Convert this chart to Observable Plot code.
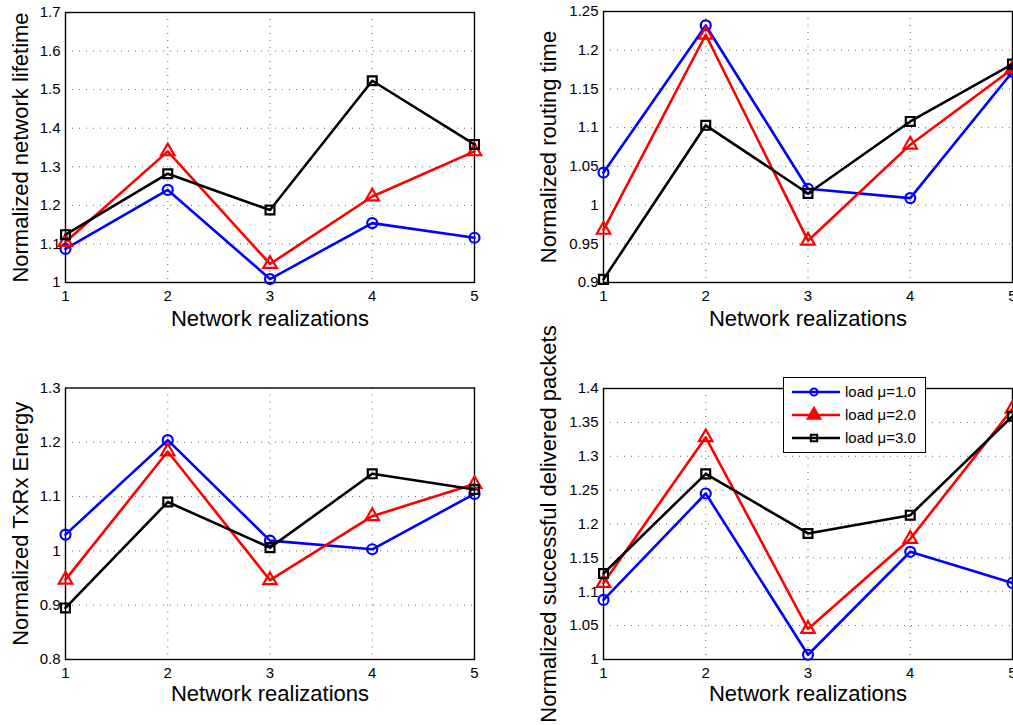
<!DOCTYPE html>
<html><head><meta charset="utf-8">
<script src="https://cdn.jsdelivr.net/npm/d3@7"></script>
<script src="https://cdn.jsdelivr.net/npm/@observablehq/plot@0.6"></script>
<style>
html,body{margin:0;padding:0;background:#fff;overflow:hidden;}
#root{position:relative;width:1013px;height:725px;overflow:hidden;font-family:"Liberation Sans",Arial,Helvetica,sans-serif;}
.panel{position:absolute;}
.panel svg{overflow:visible;max-width:none !important;}
#legend{position:absolute;left:783px;top:377px;width:141px;height:74px;border:1px solid #000;background:#fff;}
</style></head><body><div id="root"></div>
<script>
const realizations = [1, 2, 3, 4, 5];
const seriesLabels = ["load μ=1.0", "load μ=2.0", "load μ=3.0"];
const seriesColors = ["#0000ff", "#ff0000", "#000000"];
const seriesSymbols = ["circle", "triangle", "square"];

const lifetimeMu1 = [1.087, 1.240, 1.009, 1.154, 1.116];
const lifetimeMu2 = [1.105, 1.340, 1.048, 1.223, 1.340];
const lifetimeMu3 = [1.124, 1.282, 1.188, 1.523, 1.358];

const routingMu1 = [1.042, 1.232, 1.021, 1.009, 1.172];
const routingMu2 = [0.968, 1.220, 0.954, 1.078, 1.176];
const routingMu3 = [0.904, 1.103, 1.015, 1.108, 1.182];

const energyMu1 = [1.030, 1.204, 1.019, 1.003, 1.105];
const energyMu2 = [0.947, 1.183, 0.946, 1.064, 1.123];
const energyMu3 = [0.895, 1.090, 1.006, 1.142, 1.113];

const deliveredMu1 = [1.088, 1.245, 1.007, 1.159, 1.113];
const deliveredMu2 = [1.113, 1.328, 1.045, 1.178, 1.370];
const deliveredMu3 = [1.127, 1.274, 1.186, 1.213, 1.359];

const lifetimeTicks = [1, 1.1, 1.2, 1.3, 1.4, 1.5, 1.6, 1.7];
const routingTicks = [0.9, 0.95, 1, 1.05, 1.1, 1.15, 1.2, 1.25];
const energyTicks = [0.8, 0.9, 1, 1.1, 1.2, 1.3];
const deliveredTicks = [1, 1.05, 1.1, 1.15, 1.2, 1.25, 1.3, 1.35, 1.4];

const xLabel = "Network realizations";
const yLabels = ["Normalized network lifetime", "Normalized routing time", "Normalized TxRx Energy", "Normalized successful delivered packets"];

const FONT = '"Liberation Sans", Arial, Helvetica, sans-serif';
const root = document.getElementById("root");

function panel(cfg) {
  const series = cfg.series;
  const data = series.flatMap((vals, i) => vals.map((v, j) => ({x: realizations[j], y: v, s: seriesLabels[i]})));
  const yTicks = cfg.yTicks;
  const marks = [
    Plot.ruleX(realizations.slice(1, -1), {stroke: "#666", strokeDasharray: "1,6", strokeWidth: 1}),
    Plot.ruleY(yTicks.slice(1, -1), {stroke: "#666", strokeDasharray: "1,6", strokeWidth: 1}),
    Plot.frame({stroke: "#000", strokeWidth: 1.4})
  ];
  seriesLabels.forEach((lab, i) => {
    const d = data.filter(p => p.s === lab);
    marks.push(Plot.line(d, {x: "x", y: "y", stroke: "s", strokeWidth: 2.6}));
    marks.push(Plot.dot(d, {x: "x", y: "y", stroke: "s", symbol: "s", r: 5, strokeWidth: 2.2, fill: "none"}));
  });
  marks.push(Plot.text([xLabel], {frameAnchor: "bottom", dy: cfg.xLabelDy, fontSize: 22, lineAnchor: "middle", textAnchor: "middle"}));
  marks.push(Plot.text([cfg.yLabel], {frameAnchor: "left", rotate: -90, dx: cfg.yLabelDx, fontSize: 22, lineAnchor: "middle", textAnchor: "middle"}));
  const chart = Plot.plot({
    width: cfg.width, height: cfg.height,
    marginLeft: cfg.mL, marginRight: cfg.mR, marginTop: cfg.mT, marginBottom: cfg.mB,
    style: {background: "transparent", overflow: "visible", fontSize: "15px", fontFamily: FONT, color: "#000", maxWidth: "none"},
    x: {domain: [1, 5], ticks: realizations, tickFormat: d => String(d), tickSize: 0, tickPadding: 8, label: null},
    y: {domain: [yTicks[0], yTicks[yTicks.length - 1]], ticks: yTicks, tickFormat: d => String(+d.toFixed(2)), tickSize: 0, tickPadding: 5, label: null},
    color: {domain: seriesLabels, range: seriesColors},
    symbol: {domain: seriesLabels, range: seriesSymbols},
    marks
  });
  const div = document.createElement("div");
  div.className = "panel";
  div.style.left = cfg.left + "px";
  div.style.top = cfg.top + "px";
  div.style.width = cfg.width + "px";
  div.appendChild(chart);
  root.appendChild(div);
}

panel({left: 0, top: 0, width: 500, height: 340, mL: 65, mR: 26, mT: 12, mB: 58,
  yTicks: lifetimeTicks, series: [lifetimeMu1, lifetimeMu2, lifetimeMu3], yLabel: yLabels[0], yLabelDx: -45, xLabelDy: 36});
panel({left: 500, top: 0, width: 520, height: 340, mL: 103, mR: 8, mT: 11, mB: 58,
  yTicks: routingTicks, series: [routingMu1, routingMu2, routingMu3], yLabel: yLabels[1], yLabelDx: -55, xLabelDy: 36});
panel({left: 0, top: 360, width: 500, height: 365, mL: 65, mR: 26, mT: 27.5, mB: 66,
  yTicks: energyTicks, series: [energyMu1, energyMu2, energyMu3], yLabel: yLabels[2], yLabelDx: -45, xLabelDy: 34});
panel({left: 500, top: 360, width: 520, height: 365, mL: 103, mR: 8, mT: 28, mB: 66,
  yTicks: deliveredTicks, series: [deliveredMu1, deliveredMu2, deliveredMu3], yLabel: yLabels[3], yLabelDx: -55, xLabelDy: 34});

// legend
const legend = document.createElement("div");
legend.id = "legend";
root.appendChild(legend);
const lsvg = d3.select(legend).append("svg").attr("width", 141).attr("height", 74).style("display", "block");
const symGen = {circle: d3.symbolCircle, triangle: d3.symbolTriangle, square: d3.symbolSquare};
seriesLabels.forEach((lab, i) => {
  const y = 14 + i * 23;
  const g = lsvg.append("g");
  g.append("line").attr("x1", 8).attr("x2", 56).attr("y1", y).attr("y2", y).attr("stroke", seriesColors[i]).attr("stroke-width", 2.6);
  const sym = d3.symbol(symGen[seriesSymbols[i]], i === 0 ? 40 : i === 1 ? 70 : 40)();
  g.append("path").attr("d", sym).attr("transform", `translate(30,${y})`)
    .attr("fill", i === 1 ? seriesColors[i] : "none").attr("stroke", seriesColors[i]).attr("stroke-width", 2);
  g.append("text").attr("x", 61).attr("y", y).attr("dy", "0.35em").attr("font-size", 15).attr("font-family", FONT).text(lab);
});
</script>
</body></html>
